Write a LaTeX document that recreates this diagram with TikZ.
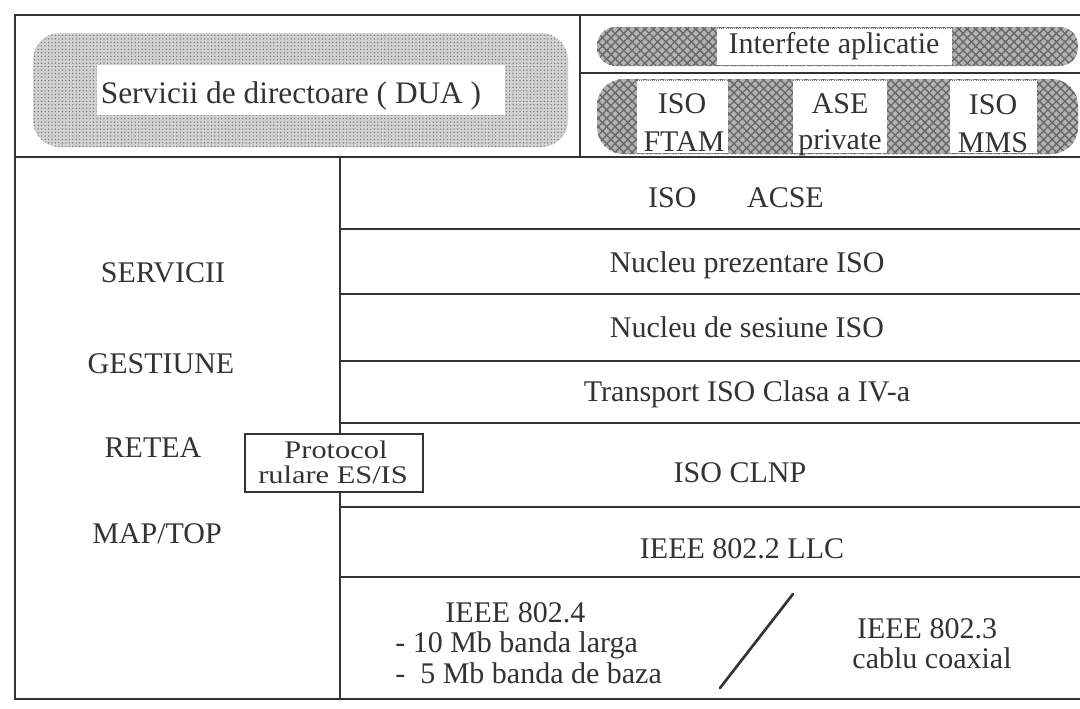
\documentclass[tikz,border=0pt]{standalone}
\usepackage{fontspec}
\setmainfont{Liberation Serif}
\newfontfamily\widefont[FakeStretch=1.2]{Liberation Serif}
\usetikzlibrary{patterns.meta}
\definecolor{ink}{HTML}{333333}
\tikzset{
  frame/.style={line width=2pt, draw=ink, line cap=rect},
  lbl/.style={font=\fontsize{22.5pt}{27pt}\selectfont, text=ink, inner sep=0pt, anchor=base},
  lbll/.style={lbl, anchor=base west},
  stipple/.style={pattern={Dots[distance=2.6pt, radius=0.55pt]}, pattern color=black!55},
  hatchA/.style={pattern={Lines[angle=45, distance=4.5pt, line width=1pt]}, pattern color=black!60},
  hatchB/.style={pattern={Lines[angle=-45, distance=4.5pt, line width=1pt]}, pattern color=black!60},
  whitebox/.style={fill=white},
  dotedge/.style={draw=black!55, densely dotted, line width=0.6pt},
  protobox/.style={draw=ink, line width=1.6pt, fill=white, minimum width=133.5pt, minimum height=43.5pt, inner sep=0pt},
}
\begin{document}
\begin{tikzpicture}[x=0.75pt, y=-0.75pt]
\useasboundingbox (0,0) rectangle (1080,708);
\fill[white] (0,0) rectangle (1080,708);

% ---------- top-left pill: Servicii de directoare ----------
\path[fill=black!18, rounded corners=20pt] (33,33) rectangle (568,147);
\path[stipple, rounded corners=20pt] (33,33) rectangle (568,147);
\path[whitebox] (97,65) rectangle (505,115);
\node[lbl, font=\fontsize{23.5pt}{28pt}\selectfont] (dua) at (291,103) {Servicii de directoare ( DUA )};

% ---------- top-right pill 1: Interfete aplicatie ----------
\path[fill=black!30, rounded corners=14pt] (597,27) rectangle (1078,66);
\path[hatchA, rounded corners=14pt] (597,27) rectangle (1078,66);
\path[hatchB, rounded corners=14pt] (597,27) rectangle (1078,66);
\path[whitebox] (717,28) rectangle (952,65);
\draw[dotedge] (717,28) -- (952,28);
\draw[dotedge] (717,65) -- (952,65);
\node[lbl] (intf) at (834,53) {Interfete aplicatie};

% ---------- top-right pill 2: FTAM / ASE / MMS ----------
\path[fill=black!30, rounded corners=20pt] (597,79) rectangle (1078,154);
\path[hatchA, rounded corners=20pt] (597,79) rectangle (1078,154);
\path[hatchB, rounded corners=20pt] (597,79) rectangle (1078,154);
\path[whitebox] (637,80) rectangle (728,153);
\path[whitebox] (793,80) rectangle (887,153);
\path[whitebox] (950,80) rectangle (1037,153);
\draw[dotedge] (637,80) -- (728,80) (793,80) -- (887,80) (950,80) -- (1037,80);
\draw[dotedge] (637,153) -- (728,153) (793,153) -- (887,153) (950,153) -- (1037,153);
\node[lbl] (iso1) at (682,113) {ISO};
\node[lbl] (ftam) at (684,151) {FTAM};
\node[lbl] (ase) at (840,113) {ASE};
\node[lbl] (priv) at (840,149) {private};
\node[lbl] (iso2) at (993,114) {ISO};
\node[lbl] (mms) at (993,152) {MMS};

% ---------- frame ----------
\draw[frame] (1090,15) -- (15,15) -- (15,699) -- (1090,699);
\draw[frame] (15,157) -- (1090,157);
\draw[frame] (580,15) -- (580,157);
\draw[frame] (580,73) -- (1090,73);
\draw[frame] (340,157) -- (340,699);
\foreach \yy in {229,294,361,423,507,577} {
  \draw[frame] (340,\yy) -- (1090,\yy);
}

% ---------- layer texts ----------
\node[lbl] (acse) at (736,207) {ISO\hspace{38pt}ACSE};
\node[lbl] (pres) at (747,272) {Nucleu prezentare ISO};
\node[lbl] (sess) at (747,337) {Nucleu de sesiune ISO};
\node[lbl] (trans) at (747,401) {Transport ISO Clasa a IV-a};
\node[lbl] (clnp) at (740,482) {ISO CLNP};
\node[lbl] (llc) at (742,558) {IEEE 802.2 LLC};

% ---------- left labels ----------
\node[lbl] (serv) at (163,282) {SERVICII};
\node[lbl] (gest) at (161,373) {GESTIUNE};
\node[lbl] (ret) at (153,457) {RETEA};
\node[lbl] (map) at (157,543) {MAP/TOP};

% ---------- protocol box ----------
\node[protobox] (proto) at (334,463) {};
\node[lbl, font=\widefont\fontsize{19pt}{19pt}\selectfont] (protoa) at (336,458) {Protocol};
\node[lbl, font=\widefont\fontsize{19pt}{19pt}\selectfont] (protob) at (333,483) {rulare ES/IS};

% ---------- physical layer ----------
\node[lbll] (p4a) at (445,622) {IEEE 802.4};
\node[lbll] (p4b) at (395,652) {- 10 Mb banda larga};
\node[lbll] (p4c) at (395,683) {-~~5 Mb banda de baza};
\coordinate (slashtop) at (793,594);
\coordinate (slashbot) at (720,688);
\draw[ink, line width=2pt, line cap=round] (slashtop) -- (slashbot);
\node[lbl] (p3a) at (927,638) {IEEE 802.3};
\node[lbl] (p3b) at (932,668) {cablu coaxial};
\end{tikzpicture}
\end{document}
